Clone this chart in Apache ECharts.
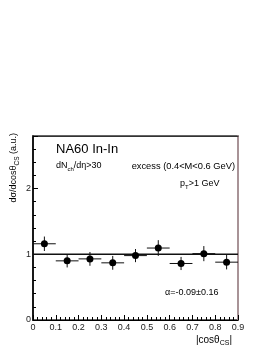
<!DOCTYPE html>
<html>
<head>
<meta charset="utf-8">
<script src="https://cdn.jsdelivr.net/npm/echarts@6/dist/echarts.min.js"></script>
<style>
html,body{margin:0;padding:0;background:#fff;}
#c{width:270px;height:349px;}
</style>
</head>
<body>
<div id="c"></div>
<script>
// ---- data ----
const binCenters = [0.05, 0.15, 0.25, 0.35, 0.45, 0.55, 0.65, 0.75, 0.85];
const binHalfWidths = [0.05, 0.05, 0.05, 0.05, 0.05, 0.05, 0.05, 0.05, 0.05];
const yieldValues = [1.16, 0.90, 0.93, 0.87, 0.98, 1.095, 0.86, 1.01, 0.88];
const yieldErrors = [0.11, 0.10, 0.105, 0.105, 0.10, 0.12, 0.10, 0.115, 0.11];
const fitLevel = 1.0;
const xRange = [0, 0.9];
const yRange = [0, 2.8];
const xTickStep = 0.1;
const yTickStep = 1;

const FONT = 'Liberation Sans, Arial, Helvetica, sans-serif';

const points = binCenters.map((x, i) => [x, yieldValues[i], yieldErrors[i], binHalfWidths[i]]);

const chart = echarts.init(document.getElementById('c'), null, {renderer: 'canvas'});

chart.setOption({
  animation: false,
  backgroundColor: '#fff',
  grid: {left: 33, right: 32, top: 136, bottom: 29, containLabel: false,
         show: true, borderColor: '#333', borderWidth: 1.5, backgroundColor: 'transparent'},
  xAxis: [{
    type: 'value', min: xRange[0], max: xRange[1], interval: xTickStep,
    axisLine: {show: true, lineStyle: {color: '#000', width: 1}},
    axisTick: {show: true, inside: true, length: 5, lineStyle: {color: '#000'}},
    minorTick: {show: true, splitNumber: 5, length: 3, lineStyle: {color: '#000'}},
    splitLine: {show: false},
    axisLabel: {fontSize: 9, fontFamily: FONT, color: '#222', margin: 3,
      formatter: v => (Math.round(v * 10) / 10).toString()}
  }, {
    type: 'value', position: 'top', show: true, min: xRange[0], max: xRange[1], interval: xTickStep,
    axisLine: {show: true, onZero: false, lineStyle: {color: '#333', width: 1.2}},
    axisTick: {show: false}, axisLabel: {show: false}, splitLine: {show: false}
  }],
  yAxis: [{
    type: 'value', min: yRange[0], max: yRange[1], interval: yTickStep,
    axisLine: {show: true, lineStyle: {color: '#000', width: 1.5}},
    axisTick: {show: true, inside: true, length: 5, lineStyle: {color: '#000'}},
    minorTick: {show: true, splitNumber: 5, length: 3, lineStyle: {color: '#000'}},
    splitLine: {show: false},
    axisLabel: {fontSize: 9, fontFamily: FONT, color: '#222', margin: 2, showMaxLabel: false,
      formatter: v => (Math.abs(v - Math.round(v)) < 1e-6 ? String(Math.round(v)) : '')}
  }, {
    type: 'value', position: 'right', min: yRange[0], max: yRange[1],
    axisLine: {show: true, onZero: false, lineStyle: {color: '#bfa3a8', width: 1.5}},
    axisTick: {show: false}, axisLabel: {show: false}, splitLine: {show: false}
  }],
  series: [
    {
      type: 'line', xAxisIndex: 0, yAxisIndex: 0,
      data: [[xRange[0], fitLevel], [xRange[1], fitLevel]],
      symbol: 'none', lineStyle: {color: '#111', width: 1.5}, z: 2, silent: true
    },
    {
      type: 'custom', xAxisIndex: 0, yAxisIndex: 0, z: 3,
      data: points,
      renderItem: function (params, api) {
        const x = api.value(0), y = api.value(1), ey = api.value(2), ex = api.value(3);
        const l = api.coord([x - ex, y]), r = api.coord([x + ex, y]);
        const t = api.coord([x, y + ey]), b = api.coord([x, y - ey]);
        return {type: 'group', children: [
          {type: 'line', shape: {x1: l[0], y1: l[1], x2: r[0], y2: r[1]}, style: {stroke: '#111', lineWidth: 1}},
          {type: 'line', shape: {x1: t[0], y1: t[1], x2: b[0], y2: b[1]}, style: {stroke: '#111', lineWidth: 1}}
        ]};
      }
    },
    {
      type: 'scatter', xAxisIndex: 0, yAxisIndex: 0, z: 4,
      data: points.map(p => [p[0], p[1]]),
      symbol: 'circle', symbolSize: 7, itemStyle: {color: '#000', opacity: 1}
    }
  ],
  graphic: [
    {type: 'text', left: 56, top: 143, style: {text: 'NA60 In-In', font: '13px ' + FONT, fill: '#000'}},
    {type: 'text', x: 56, y: 166, style: {
      text: '{m|dN}{s|ch}{m|/dη>30}', textVerticalAlign: 'middle',
      rich: {m: {fontSize: 9, fontFamily: FONT, fill: '#000', lineHeight: 12, verticalAlign: 'middle'},
             s: {fontSize: 6, fontFamily: FONT, fill: '#000', lineHeight: 12, verticalAlign: 'bottom'}}}},
    {type: 'text', x: 235, y: 166, style: {
      text: 'excess (0.4<M<0.6 GeV)', font: '9.3px ' + FONT, fill: '#000', textAlign: 'right', textVerticalAlign: 'middle'}},
    {type: 'text', x: 180, y: 184, style: {
      text: '{m|p}{s|T}{m|>1 GeV}', textVerticalAlign: 'middle',
      rich: {m: {fontSize: 9, fontFamily: FONT, fill: '#000', lineHeight: 12, verticalAlign: 'middle'},
             s: {fontSize: 6, fontFamily: FONT, fill: '#000', lineHeight: 12, verticalAlign: 'bottom'}}}},
    {type: 'text', x: 165, y: 293, style: {
      text: 'α=-0.09±0.16', font: '9px ' + FONT, fill: '#000', textVerticalAlign: 'middle'}},
    {type: 'text', x: 232, y: 340, style: {
      text: '{m||cosθ}{s|CS}{m||}', textAlign: 'right', textVerticalAlign: 'middle',
      rich: {m: {fontSize: 10, fontFamily: FONT, fill: '#000', lineHeight: 14, verticalAlign: 'middle'},
             s: {fontSize: 7, fontFamily: FONT, fill: '#000', lineHeight: 14, verticalAlign: 'bottom'}}}},
    {type: 'text', x: 14, y: 133, rotation: Math.PI / 2, style: {
      text: '{m|dσ/dcosθ}{s|CS}{m| (a.u.)}', textAlign: 'right', textVerticalAlign: 'middle',
      rich: {m: {fontSize: 9, fontFamily: FONT, fill: '#000', lineHeight: 13, verticalAlign: 'middle'},
             s: {fontSize: 6.5, fontFamily: FONT, fill: '#000', lineHeight: 13, verticalAlign: 'bottom'}}}}
  ]
});
</script>
</body>
</html>
